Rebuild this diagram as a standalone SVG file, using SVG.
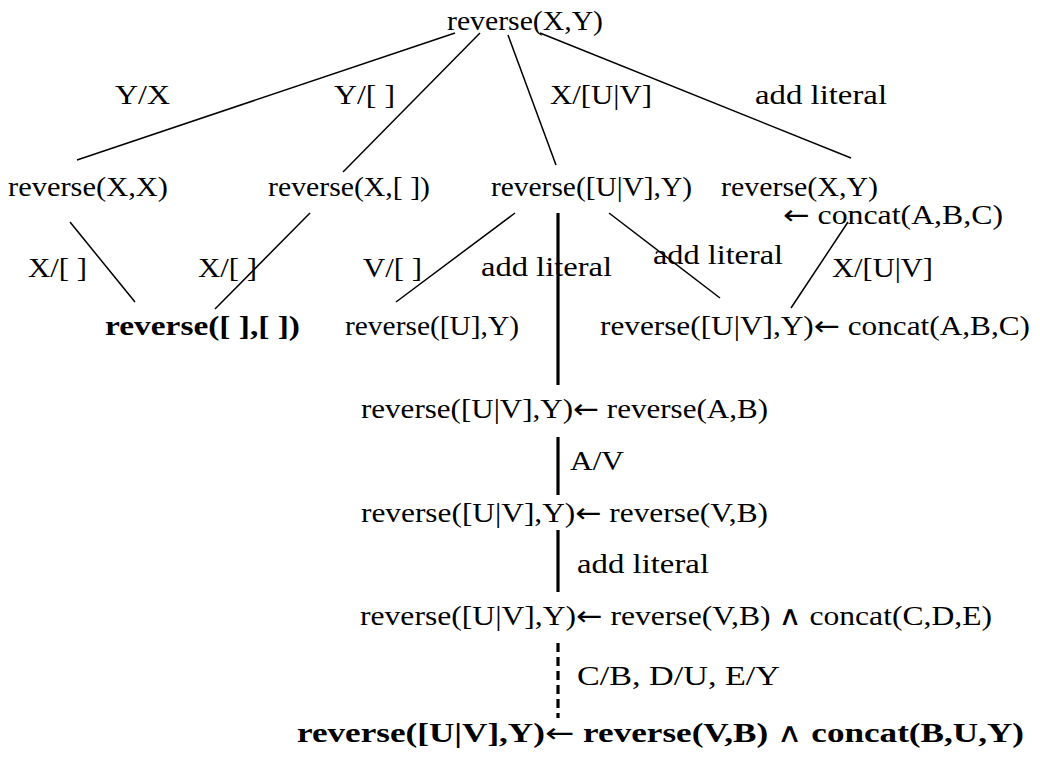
<svg xmlns="http://www.w3.org/2000/svg" width="1040" height="757" viewBox="0 0 1040 757">
<style>
text{font-family:"Liberation Serif","DejaVu Serif",serif;font-size:27px;fill:#000}
.b{font-weight:bold}
.s{font-family:"DejaVu Sans",sans-serif;font-weight:normal}
.t{stroke:#000;stroke-width:1.5;fill:none}
.k{stroke:#000;stroke-width:3.2;fill:none}
.d{stroke:#000;stroke-width:3.2;fill:none;stroke-dasharray:9 5}
</style>
<rect width="1040" height="757" fill="#fff"/>
<g id="connectors">
<line class="t" x1="455" y1="33" x2="77" y2="160"/>
<line class="t" x1="480" y1="33" x2="343" y2="172"/>
<line class="t" x1="508" y1="35" x2="556" y2="165"/>
<line class="t" x1="540" y1="33" x2="851" y2="158"/>
<line class="t" x1="70" y1="222" x2="135" y2="302"/>
<line class="t" x1="310" y1="213" x2="215" y2="309"/>
<line class="t" x1="515" y1="213" x2="396" y2="302"/>
<line class="t" x1="609" y1="213" x2="720" y2="298"/>
<line class="t" x1="848" y1="222" x2="791" y2="308"/>
<line class="k" x1="558" y1="213" x2="558" y2="385"/>
<line class="k" x1="558" y1="437" x2="558" y2="495"/>
<line class="k" x1="558" y1="530" x2="558" y2="592"/>
<line class="d" x1="558" y1="643" x2="558" y2="718"/>
</g>
<g id="labels">
<text x="115" y="104" textLength="55" lengthAdjust="spacingAndGlyphs">Y/X</text>
<text x="334" y="104" textLength="61" lengthAdjust="spacingAndGlyphs">Y/[ ]</text>
<text x="550" y="104" textLength="102" lengthAdjust="spacingAndGlyphs">X/[U|V]</text>
<text x="755" y="104" textLength="132" lengthAdjust="spacingAndGlyphs">add literal</text>
<text x="28" y="277" textLength="59" lengthAdjust="spacingAndGlyphs">X/[ ]</text>
<text x="198" y="277" textLength="59" lengthAdjust="spacingAndGlyphs">X/[ ]</text>
<text x="363" y="277" textLength="59" lengthAdjust="spacingAndGlyphs">V/[ ]</text>
<text x="481" y="276" textLength="131" lengthAdjust="spacingAndGlyphs">add literal</text>
<text x="653" y="264" textLength="130" lengthAdjust="spacingAndGlyphs">add literal</text>
<text x="832" y="277" textLength="101" lengthAdjust="spacingAndGlyphs">X/[U|V]</text>
<text x="570" y="470" textLength="54" lengthAdjust="spacingAndGlyphs">A/V</text>
<text x="577" y="573" textLength="132" lengthAdjust="spacingAndGlyphs">add literal</text>
<text x="577" y="685" textLength="203" lengthAdjust="spacingAndGlyphs">C/B, D/U, E/Y</text>
</g>
<g id="n0"><text x="447" y="30" textLength="156" lengthAdjust="spacingAndGlyphs">reverse(X,Y)</text></g>
<g id="n1"><text x="8" y="196" textLength="160" lengthAdjust="spacingAndGlyphs">reverse(X,X)</text></g>
<g id="n2"><text x="268" y="196" textLength="162" lengthAdjust="spacingAndGlyphs">reverse(X,[ ])</text></g>
<g id="n3"><text x="491" y="196" textLength="201" lengthAdjust="spacingAndGlyphs">reverse([U|V],Y)</text></g>
<g id="n4"><text x="721" y="196" textLength="157" lengthAdjust="spacingAndGlyphs">reverse(X,Y)</text><text x="783" y="224" textLength="220" lengthAdjust="spacingAndGlyphs"><tspan class="s">←</tspan> concat(A,B,C)</text></g>
<g id="n5"><text class="b" x="105" y="335" textLength="195" lengthAdjust="spacingAndGlyphs">reverse([ ],[ ])</text></g>
<g id="n6"><text x="345" y="335" textLength="174" lengthAdjust="spacingAndGlyphs">reverse([U],Y)</text></g>
<g id="n7"><text x="600" y="335" textLength="430" lengthAdjust="spacingAndGlyphs">reverse([U|V],Y)<tspan class="s">←</tspan> concat(A,B,C)</text></g>
<g id="n8"><text x="361" y="418" textLength="407" lengthAdjust="spacingAndGlyphs">reverse([U|V],Y)<tspan class="s">←</tspan> reverse(A,B)</text></g>
<g id="n9"><text x="361" y="522" textLength="407" lengthAdjust="spacingAndGlyphs">reverse([U|V],Y)<tspan class="s">←</tspan> reverse(V,B)</text></g>
<g id="n10"><text x="360" y="625" textLength="632" lengthAdjust="spacingAndGlyphs">reverse([U|V],Y)<tspan class="s">←</tspan> reverse(V,B) <tspan class="s">∧</tspan> concat(C,D,E)</text></g>
<g id="n11"><text class="b" x="297" y="742" textLength="727" lengthAdjust="spacingAndGlyphs">reverse([U|V],Y)<tspan class="s">←</tspan> reverse(V,B) <tspan class="s">∧</tspan> concat(B,U,Y)</text></g>
</svg>
